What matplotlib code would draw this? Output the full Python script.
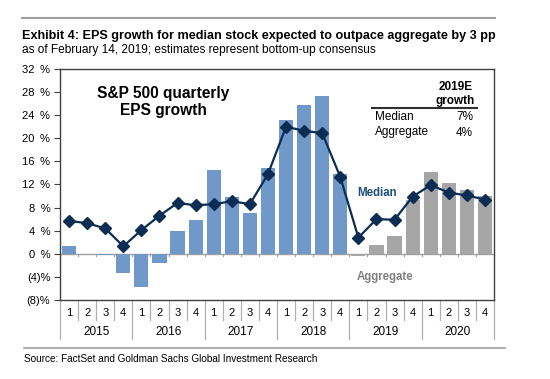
import matplotlib
matplotlib.use("Agg")
import matplotlib.pyplot as plt
import matplotlib.transforms as mtransforms
import numpy as np

plt.rcParams['font.family'] = ['Liberation Sans', 'DejaVu Sans']

years = ["2015", "2016", "2017", "2018", "2019", "2020"]
quarters = ["1", "2", "3", "4"]
aggregate = [1.4, 0.0, -0.2, -3.3, -5.7, -1.6, 4.0, 5.9, 14.5, 9.9, 7.0, 14.9,
             23.1, 25.7, 27.4, 13.8, -0.3, 1.6, 3.0, 9.3, 14.1, 12.2, 11.0, 10.0]
median = [5.7, 5.3, 4.4, 1.3, 4.1, 6.6, 8.8, 8.4, 8.6, 9.1, 8.6, 13.8,
          22.0, 21.3, 20.9, 13.3, 2.8, 6.0, 5.9, 9.9, 11.9, 10.6, 10.1, 9.4]
n_actual = 16  # first 16 quarters are actuals (blue), rest estimates (gray)
yticks = [-8, -4, 0, 4, 8, 12, 16, 20, 24, 28, 32]
ytick_labels = ["(8)%", "(4)%", "0\u2002%", "4\u2002%", "8\u2002%", "12\u2002%", "16\u2002%",
                "20\u2002%", "24\u2002%", "28\u2002%", "32\u2002%"]
table_rows = [("Median", "7%"), ("Aggregate", "4%")]

W, H = 550, 379
fig = plt.figure(figsize=(W / 100, H / 100), dpi=100)

def fx(px):
    return px / W

def fy(py):
    return 1 - py / H

# Header
fig.add_artist(plt.Line2D([fx(22), fx(495)], [fy(18), fy(18)], color="#a0a0a0", lw=1.5))
fig.text(fx(22), fy(36), "Exhibit 4: EPS growth for median stock expected to outpace aggregate by 3 pp",
         fontsize=9.05, fontweight="bold", va="center", ha="left")
fig.text(fx(22), fy(50), "as of February 14, 2019; estimates represent bottom-up consensus",
         fontsize=8.6, va="center", ha="left")
# Footer
fig.add_artist(plt.Line2D([fx(24), fx(505)], [fy(348), fy(348)], color="#a0a0a0", lw=1.2))
fig.text(fx(24), fy(359), "Source: FactSet and Goldman Sachs Global Investment Research",
         fontsize=7.2, va="center", ha="left")

ax = fig.add_axes([fx(60), fy(300), (494 - 60) / W, (300 - 69) / H])
x = np.arange(len(aggregate))
colors = ["#7099c9" if i < n_actual else "#a6a6a6" for i in range(len(aggregate))]
ax.bar(x, aggregate, width=0.78, color=colors, zorder=2)
ax.axhline(0, color="#a0a0a0", lw=1.0, zorder=1)
ax.plot(x, median, color="#0b2d54", lw=1.6, marker="D", markersize=6.5, zorder=3)

ax.set_xlim(-0.5, len(aggregate) - 0.5)
ax.set_ylim(-8, 32)
ax.set_yticks(yticks)
ax.set_yticklabels(ytick_labels, fontsize=8)
ax.tick_params(axis="y", length=4, width=0.8, color="#404040", pad=3)
ax.set_xticks([])
for s in ax.spines.values():
    s.set_color("#404040")
    s.set_linewidth(1.0)

# small ticks at quarter boundaries on zero line
for b in np.arange(0.5, len(aggregate) - 0.5, 1):
    ax.plot([b, b], [0, -0.45], color="#a0a0a0", lw=0.8, zorder=1)

# Category axis labels
tr = mtransforms.blended_transform_factory(ax.transData, ax.transAxes)
y_q = -(313 - 300) / 231
y_y = -(332 - 300) / 231
y_qsep = -(320 - 300) / 231
y_ysep = -(339 - 300) / 231
for i in range(len(aggregate)):
    ax.text(i, y_q, quarters[i % 4], transform=tr, ha="center", va="center", fontsize=8)
for b in range(len(aggregate) + 1):
    bx = b - 0.5
    bottom = y_ysep if b % 4 == 0 else y_qsep
    ax.plot([bx, bx], [0, bottom], transform=tr, color="#b0b0b0", lw=0.9, clip_on=False)
for j, yr in enumerate(years):
    ax.text(4 * j + 1.5, y_y, yr, transform=tr, ha="center", va="center", fontsize=8.5)

# Annotations
ax.text(fx(163), fy(102), "S&P 500 quarterly\nEPS growth", transform=fig.transFigure,
        ha="center", va="center", fontsize=11.2, fontweight="bold", linespacing=1.1)
ax.text(fx(377), fy(193), "Median", transform=fig.transFigure, ha="center", va="center",
        fontsize=8.3, fontweight="bold", color="#1f4e79")
ax.text(fx(385), fy(277), "Aggregate", transform=fig.transFigure, ha="center", va="center",
        fontsize=8.3, fontweight="bold", color="#808080")

# Table
ax.text(fx(475), fy(94), "2019E\ngrowth", transform=fig.transFigure, ha="right", va="center",
        multialignment="center", fontsize=8.5, fontweight="bold", linespacing=1.25)
fig.add_artist(plt.Line2D([fx(372), fx(477)], [fy(108), fy(108)], color="#303030", lw=1.5))
for k, (name, val) in enumerate(table_rows):
    yy = fy(117 + 15.5 * k)
    fig.text(fx(375), yy, name, ha="left", va="center", fontsize=8.5)
    fig.text(fx(473), yy, val, ha="right", va="center", fontsize=8.5)

fig.savefig("out.png", dpi=100)
